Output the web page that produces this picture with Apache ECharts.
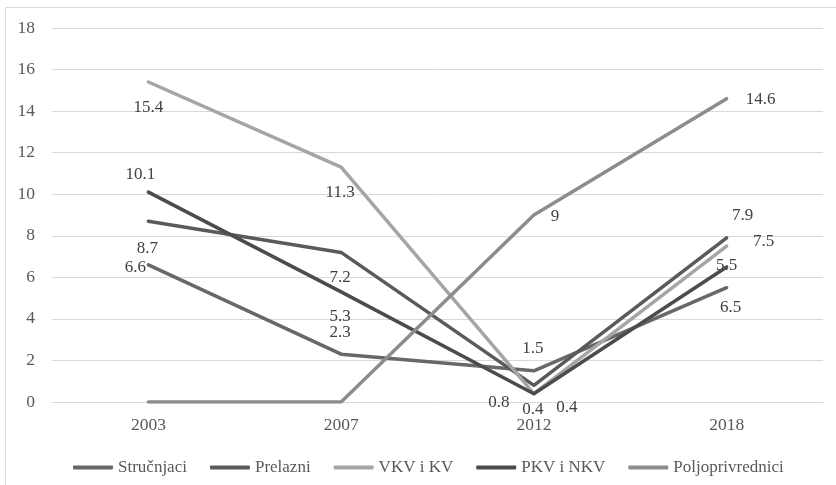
<!DOCTYPE html>
<html>
<head>
<meta charset="utf-8">
<script src="https://cdn.jsdelivr.net/npm/echarts@6/dist/echarts.min.js"></script>
<style>
html,body{margin:0;padding:0;background:#fff;}
#chart{width:836px;height:485px;}
</style>
</head>
<body>
<div id="chart"></div>
<script>
// ---- data ----
const categories = ['2003', '2007', '2012', '2018'];
const seriesNames = ['Stručnjaci', 'Prelazni', 'VKV i KV', 'PKV i NKV', 'Poljoprivrednici'];
const strucnjaci = [6.6, 2.3, 1.5, 5.5];
const prelazni = [8.7, 7.2, 0.8, 7.9];
const vkvKv = [15.4, 11.3, 0.4, 7.5];
const pkvNkv = [10.1, 5.3, 0.4, 6.5];
const poljoprivrednici = [0, 0, 9, 14.6];
const yTicks = [0, 2, 4, 6, 8, 10, 12, 14, 16, 18];

// ---- styling (label offsets mimic manually placed data labels) ----
const colors = ['#686868', '#5a5a5a', '#a5a5a5', '#4c4c4c', '#8c8c8c'];
const labelOffsets = [
  [[-13, 3], [-1, -22], [-1, -22], [0, -22]],
  [[-1, 27], [-1, 25], [-35, 17], [16, -22]],
  [[0, 26], [-1, 25], [33, 14], [37, -5]],
  [[-8, -18], [-1, 25], [-1, 16], [4, 41]],
  [null, null, [21, 2], [34, 1]]
];
const values = [strucnjaci, prelazni, vkvKv, pkvNkv, poljoprivrednici];
const FONT = 'Liberation Serif';

const series = seriesNames.map((name, si) => ({
  name: name,
  type: 'line',
  data: values[si].map((v, i) => {
    const off = labelOffsets[si][i];
    return {
      value: v,
      label: off ? { show: true, position: 'inside', offset: off } : { show: false }
    };
  }),
  symbol: 'circle',
  symbolSize: 0,
  showSymbol: true,
  lineStyle: { width: 3.5, color: colors[si], cap: 'round', join: 'round' },
  itemStyle: { color: colors[si] },
  label: {
    color: '#404040',
    fontFamily: FONT,
    fontSize: 17
  },
  emphasis: { disabled: true },
  z: 2 + si
}));

const chart = echarts.init(document.getElementById('chart'), null, { renderer: 'canvas' });
chart.setOption({
  animation: false,
  backgroundColor: '#ffffff',
  color: colors,
  graphic: [{
    type: 'rect',
    shape: { x: 5.5, y: 7.5, width: 1000, height: 1000 },
    style: { fill: 'none', stroke: '#d9d9d9', lineWidth: 1 },
    silent: true
  }],
  grid: { left: 52, right: 13, top: 28, bottom: 83, containLabel: false },
  xAxis: {
    type: 'category',
    data: categories,
    boundaryGap: true,
    axisLine: { show: true, lineStyle: { color: '#d9d9d9', width: 1 } },
    axisTick: { show: false },
    axisLabel: { color: '#595959', fontFamily: FONT, fontSize: 17.5, margin: 14 },
    splitLine: { show: false }
  },
  yAxis: {
    type: 'value',
    min: yTicks[0],
    max: yTicks[yTicks.length - 1],
    interval: yTicks[1] - yTicks[0],
    axisLine: { show: false },
    axisTick: { show: false },
    axisLabel: { color: '#595959', fontFamily: FONT, fontSize: 17.5, margin: 17 },
    splitLine: { show: true, lineStyle: { color: '#d9d9d9', width: 1 } }
  },
  legend: {
    data: seriesNames,
    left: 68,
    top: 454,
    icon: 'roundRect',
    itemWidth: 40,
    itemHeight: 4,
    itemGap: 23,
    textStyle: { color: '#595959', fontFamily: FONT, fontSize: 17 },
    selectedMode: false
  },
  series: series
});
</script>
</body>
</html>
